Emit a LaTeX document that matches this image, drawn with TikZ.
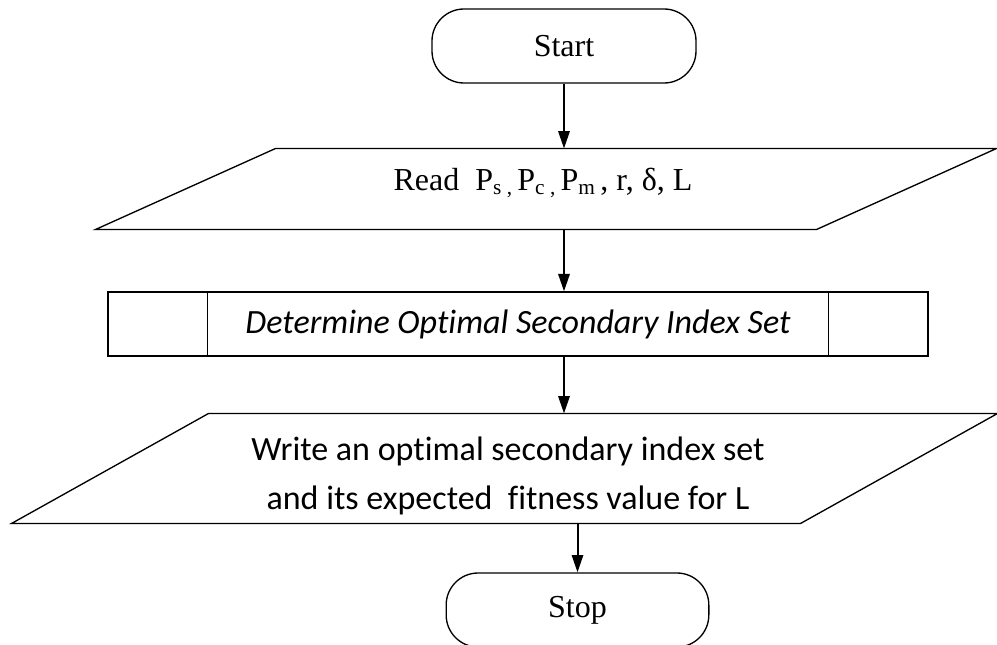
\documentclass[tikz,border=0pt]{standalone}
\usepackage{fontspec}
\setmainfont{Liberation Serif}
\newfontfamily\calibrifont[Ligatures=NoCommon]{Carlito}
\usetikzlibrary{arrows.meta}

\tikzset{every picture/.style={line width=0.75pt}}
\newcommand{\subidx}[1]{\raisebox{-0.3ex}{\fontsize{16}{16}\selectfont #1}}

\begin{document}
\begin{tikzpicture}[x=0.75pt,y=0.75pt,yscale=-1,
	terminal/.style={draw, line width=1pt, rounded corners=24pt, minimum width=198pt, minimum height=55.5pt, inner sep=0pt, font=\fontsize{24}{28}\selectfont},
	iobox/.style={minimum width=#1, inner sep=0pt},
	slanted/.style={draw, line width=1pt, line join=miter},
	procbox/.style={draw, line width=1pt, minimum width=615pt, minimum height=48pt, inner sep=0pt, font=\calibrifont\itshape\fontsize{25.5}{30}\selectfont},
	serif text/.style={inner sep=0pt, font=\fontsize{24}{28}\selectfont},
	sans text/.style={inner sep=0pt, align=center, font=\calibrifont\fontsize{25.5}{36.75}\selectfont},
	flowline/.style={line width=1.5pt, -{Triangle[length=13pt,width=8.5pt]}}]
		\path [use as bounding box] (0,0) rectangle (997,645); %set diagram to the size of the original

		\draw (564,46) node [terminal] (start) {Start};

		\draw (546,189) node [iobox=675pt, minimum height=60pt] (read) {};
		\draw [slanted] ([xshift=135pt]read.north west) -- (read.north east) -- ([xshift=-135pt]read.south east) -- (read.south west) -- cycle;
		\draw (543,183) node [serif text] (readtxt) {Read\ \ P\subidx{s ,}\,P\subidx{c ,}\,P\subidx{m}\,, r, δ, L};

		\draw (518,324) node [procbox] (det) {Determine Optimal Secondary Index Set};
		\draw ([xshift=75pt]det.north west) -- ([xshift=75pt]det.south west);
		\draw ([xshift=-75pt]det.north east) -- ([xshift=-75pt]det.south east);

		\draw (504.5,468.5) node [iobox=738.75pt, minimum height=81.75pt] (write) {};
		\draw [slanted] ([xshift=147.75pt]write.north west) -- (write.north east) -- ([xshift=-147.75pt]write.south east) -- (write.south west) -- cycle;
		\draw (508,475.5) node [sans text] (writetxt) {Write an optimal secondary index set\\and its expected\ \ fitness value for L};

		\draw (577.5,610) node [terminal, minimum width=197pt] (stop) {Stop};

		\draw [flowline] (start) -- (start |- read.north);
		\draw [flowline] (read.south -| start) -- (det.north -| start);
		\draw [flowline] (det.south -| start) -- (write.north -| start);
		\draw [flowline] (write.south -| stop) -- (stop);
		\end{tikzpicture}
\end{document}
